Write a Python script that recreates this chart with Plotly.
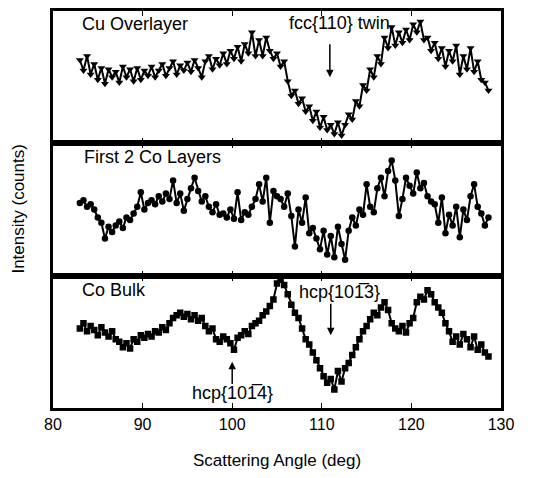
import numpy as np
import plotly.graph_objects as go
from plotly.subplots import make_subplots

# Scattering angle grid (deg)
angle = np.round(np.arange(83.0, 128.61, 0.4), 1)

cu_overlayer = [
    63, 55, 66, 52, 60, 48, 57, 45, 56, 50,
    54, 46, 58, 50, 56, 47, 57, 48, 55, 51,
    58, 50, 55, 60, 51, 57, 62, 52, 59, 55,
    61, 54, 63, 57, 50, 62, 66, 56, 64, 59,
    68, 60, 70, 64, 73, 62, 75, 68, 84, 66,
    78, 66, 80, 70, 64, 68, 58, 62, 47, 36,
    40, 30, 34, 24, 28, 17, 24, 12, 20, 10,
    14, 7, 16, 6, 14, 22, 18, 32, 28, 44,
    40, 56, 50, 66, 60, 80, 72, 88, 74, 84,
    76, 86, 78, 90, 84, 92, 78, 80, 70, 76,
    64, 72, 58, 70, 62, 74, 52, 66, 56, 72,
    54, 62, 48, 46, 40,
]

first_two_co = [
    55, 57, 52, 54, 50, 44, 40, 28, 37, 33,
    38, 41, 36, 44, 42, 47, 52, 63, 50, 55,
    57, 54, 60, 56, 62, 58, 72, 55, 62, 49,
    58, 66, 74, 64, 56, 60, 52, 48, 54, 46,
    47, 44, 50, 43, 63, 42, 48, 46, 52, 58,
    69, 56, 74, 40, 64, 60, 58, 52, 62, 45,
    22, 50, 40, 59, 32, 36, 28, 20, 34, 16,
    30, 14, 37, 24, 12, 34, 44, 38, 50, 46,
    69, 52, 48, 66, 74, 60, 79, 87, 72, 45,
    58, 74, 68, 62, 78, 66, 70, 60, 56, 54,
    40, 59, 32, 46, 38, 52, 29, 50, 42, 60,
    69, 52, 47, 38, 44,
]

co_bulk = [
    60, 64, 58, 62, 59, 55, 61, 57, 54, 58,
    52, 50, 46, 49, 45, 52, 50, 55, 53, 56,
    54, 58, 57, 61, 59, 64, 68, 70, 72, 69,
    71, 67, 70, 66, 68, 62, 58, 60, 52, 50,
    54, 52, 49, 44, 53, 55, 58, 56, 62, 64,
    66, 70, 73, 77, 82, 94, 97, 93, 86, 78,
    72, 68, 60, 52, 48, 42, 36, 30, 24, 19,
    22, 14, 28, 20, 30, 34, 40, 46, 52, 58,
    62, 67, 72, 70, 76, 80, 74, 64, 60, 58,
    62, 57, 64, 68, 80, 84, 82, 89, 86, 80,
    76, 72, 64, 58, 50, 54, 48, 56, 52, 46,
    54, 44, 48, 42, 39,
]

panel_labels = ["Cu Overlayer", "First 2 Co Layers", "Co Bulk"]
x_ticks = [80, 90, 100, 110, 120, 130]

FONT = "Liberation Sans, Arial, sans-serif"

fig = make_subplots(rows=3, cols=1, shared_xaxes=True, vertical_spacing=0)

series = [cu_overlayer, first_two_co, co_bulk]
symbols = ["triangle-down", "circle", "square"]
sizes = [7, 6.5, 6.5]
for i, (vals, sym, sz) in enumerate(zip(series, symbols, sizes)):
    fig.add_trace(go.Scatter(
        x=angle, y=vals, mode="lines+markers",
        line=dict(color="black", width=2),
        marker=dict(symbol=sym, size=sz, color="black"),
        showlegend=False,
    ), row=i + 1, col=1)

for r in range(1, 4):
    fig.update_xaxes(range=[80, 130], tickvals=x_ticks, ticks="inside", ticklen=5,
                     tickcolor="black", mirror="allticks", showline=True,
                     linewidth=3, linecolor="black", showgrid=False, zeroline=False,
                     showticklabels=(r == 3), row=r, col=1,
                     tickfont=dict(family=FONT, size=16, color="black"))
    fig.update_yaxes(range=[0, 100], showticklabels=False, ticks="", showline=True,
                     mirror=True, linewidth=3, linecolor="black", showgrid=False,
                     zeroline=False, row=r, col=1)

fig.update_xaxes(title=dict(text="Scattering Angle (deg)", standoff=22,
                            font=dict(family=FONT, size=17, color="black")), row=3, col=1)

ann_font = dict(family=FONT, size=18, color="black")
# panel labels
fig.add_annotation(x=83.0, y=90, xref="x", yref="y", text=panel_labels[0], showarrow=False,
                   xanchor="left", font=ann_font)
fig.add_annotation(x=83.2, y=90, xref="x2", yref="y2", text=panel_labels[1], showarrow=False,
                   xanchor="left", font=ann_font)
fig.add_annotation(x=83.0, y=89, xref="x3", yref="y3", text=panel_labels[2], showarrow=False,
                   xanchor="left", font=ann_font)

# peak labels with arrows
fig.add_annotation(x=112.0, y=91, xref="x", yref="y", text="fcc{110} twin", showarrow=False,
                   font=ann_font)
fig.add_annotation(x=110.9, y=50, xref="x", yref="y", ax=110.9, ay=76, axref="x", ayref="y",
                   text="", showarrow=True, arrowhead=2, arrowsize=1, arrowwidth=1.5,
                   arrowcolor="black")
fig.add_annotation(x=112.0, y=88, xref="x3", yref="y3", text="hcp{101\u03053}",
                   showarrow=False, font=ann_font)
fig.add_annotation(x=111.0, y=55, xref="x3", yref="y3", ax=111.0, ay=80, axref="x3", ayref="y3",
                   text="", showarrow=True, arrowhead=2, arrowsize=1, arrowwidth=1.5,
                   arrowcolor="black")
fig.add_annotation(x=100.0, y=11, xref="x3", yref="y3", text="hcp{101\u03054}",
                   showarrow=False, font=ann_font)
fig.add_annotation(x=100.0, y=35, xref="x3", yref="y3", ax=100.0, ay=17, axref="x3", ayref="y3",
                   text="", showarrow=True, arrowhead=2, arrowsize=1, arrowwidth=1.5,
                   arrowcolor="black")

# shared y title
fig.add_annotation(x=-0.078, y=0.5, xref="paper", yref="paper", text="Intensity (counts)",
                   textangle=-90, showarrow=False, xanchor="center", yanchor="middle",
                   font=dict(family=FONT, size=17, color="black"))

fig.update_layout(
    width=533, height=478,
    margin=dict(l=53, r=32, t=8, b=70),
    paper_bgcolor="white", plot_bgcolor="white",
    font=dict(family=FONT, color="black"),
)

fig.write_html("out.html")
